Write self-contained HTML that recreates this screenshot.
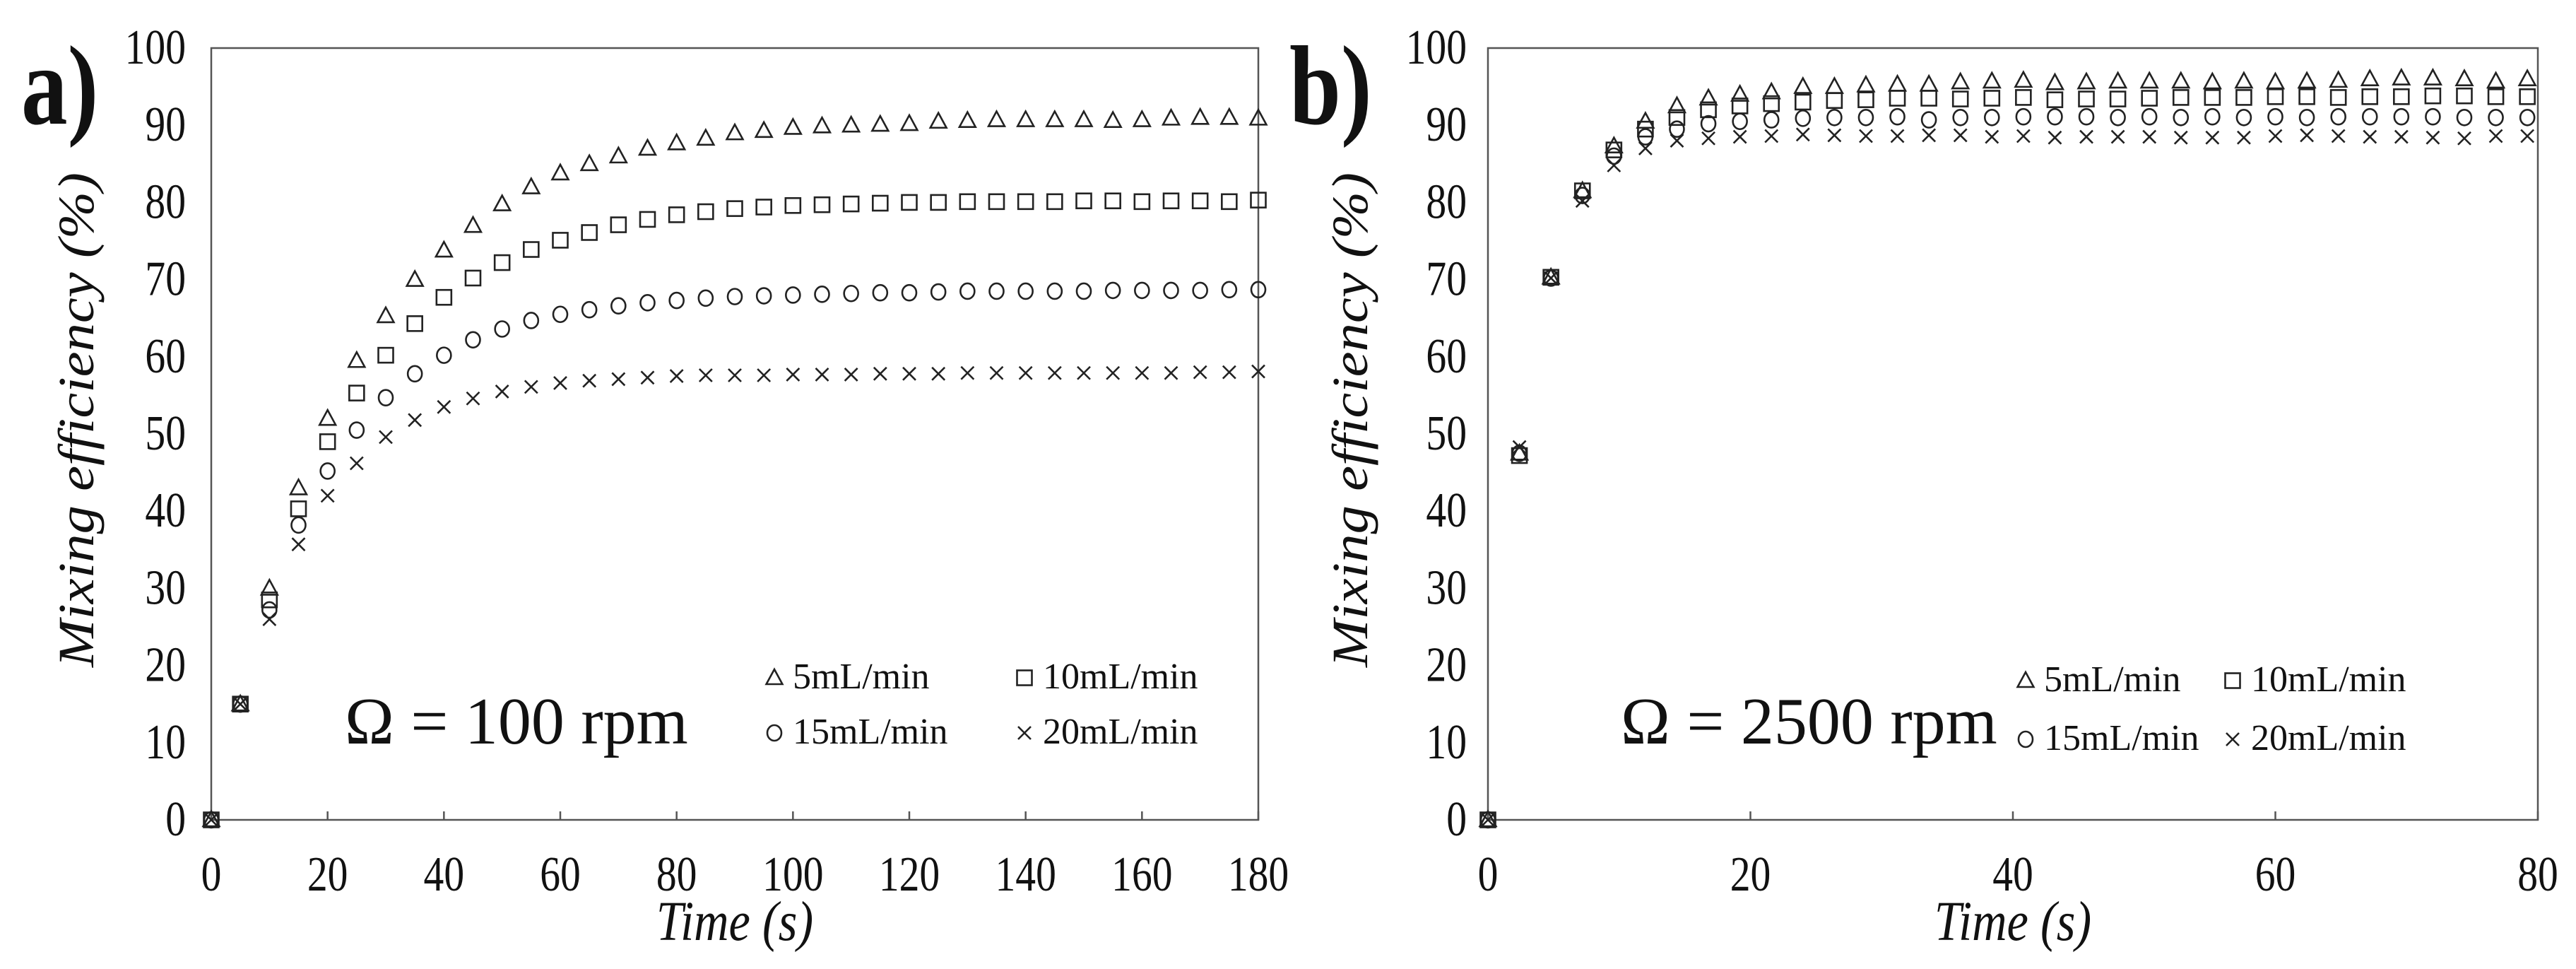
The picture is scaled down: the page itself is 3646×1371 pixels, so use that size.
<!DOCTYPE html>
<html><head><meta charset="utf-8">
<style>
html,body{margin:0;padding:0;background:#fff;}
svg{display:block;font-family:"Liberation Serif","Times New Roman",serif;}
</style></head>
<body>
<svg id="fig" width="3646" height="1371" viewBox="0 0 3646 1371" xmlns="http://www.w3.org/2000/svg" font-family="Liberation Serif, serif">
<rect width="3646" height="1371" fill="#fff"/>
</svg>
<script>
// ---- Panel a data ----
const timeA = [0,5,10,15,20,25,30,35,40,45,50,55,60,65,70,75,80,85,90,95,100,105,110,115,120,125,130,135,140,145,150,155,160,165,170,175,180];
const a5  = [0,15,30,43,52,59.5,65.3,70,73.8,77,79.8,82,83.8,85,86,87,87.7,88.3,89,89.3,89.7,89.9,90,90.1,90.2,90.5,90.6,90.7,90.7,90.7,90.7,90.6,90.7,90.9,91,91,90.9];
const a10 = [0,15,28.5,40.3,49,55.3,60.2,64.3,67.7,70.2,72.2,73.9,75.1,76.1,77.1,77.8,78.4,78.8,79.2,79.4,79.6,79.7,79.8,79.9,80,80,80.1,80.1,80.1,80.1,80.2,80.2,80.1,80.2,80.2,80.1,80.3];
const a15 = [0,15,27.2,38.2,45.2,50.5,54.7,57.8,60.2,62.2,63.6,64.7,65.5,66.1,66.6,67,67.3,67.6,67.8,67.9,68,68.1,68.2,68.3,68.3,68.4,68.5,68.5,68.5,68.5,68.5,68.6,68.6,68.6,68.6,68.7,68.7];
const a20 = [0,15,26,35.7,42,46.2,49.6,51.8,53.5,54.6,55.5,56.1,56.6,56.9,57.1,57.3,57.5,57.6,57.6,57.6,57.7,57.7,57.7,57.8,57.8,57.8,57.9,57.9,57.9,57.9,57.9,57.9,57.9,57.9,58,58,58.1];
const xTicksA = [0,20,40,60,80,100,120,140,160,180];
// ---- Panel b data ----
const timeB = [0,2.4,4.8,7.2,9.6,12,14.4,16.8,19.2,21.6,24,26.4,28.8,31.2,33.6,36,38.4,40.8,43.2,45.6,48,50.4,52.8,55.2,57.6,60,62.4,64.8,67.2,69.6,72,74.4,76.8,79.2];
const b5  = [0,47.5,70.3,81.5,87.3,90.5,92.5,93.5,94,94.3,95,95,95.2,95.3,95.3,95.6,95.7,95.8,95.5,95.6,95.7,95.7,95.7,95.6,95.7,95.6,95.7,95.8,96,96.1,96.1,96,95.7,96];
const b10 = [0,47.2,70.3,81.5,86.8,89.5,91,92,92.5,92.8,93,93.2,93.3,93.5,93.5,93.4,93.5,93.6,93.3,93.4,93.4,93.5,93.6,93.6,93.6,93.7,93.7,93.6,93.7,93.7,93.8,93.8,93.7,93.7];
const b15 = [0,47.5,70.2,80.9,86,88.5,89.5,90.2,90.5,90.7,90.9,91,91,91.1,90.7,91,91,91.1,91.1,91.1,91,91.1,91,91.1,91,91.1,91,91.1,91.1,91.1,91.1,91,91,91];
const b20 = [0,48.3,70.2,80.2,84.8,87,88,88.3,88.5,88.6,88.8,88.7,88.6,88.6,88.7,88.7,88.5,88.6,88.4,88.5,88.5,88.5,88.4,88.4,88.4,88.6,88.7,88.6,88.5,88.5,88.4,88.3,88.6,88.6];
const xTicksB = [0,20,40,60,80];
const yTicks = [0,10,20,30,40,50,60,70,80,90,100];
const legendLabels = ["5mL/min","10mL/min","15mL/min","20mL/min"];

const NS="http://www.w3.org/2000/svg";
const svg=document.getElementById('fig');
function mk(tag,attrs,parent,text){const e=document.createElementNS(NS,tag);for(const k in attrs)e.setAttribute(k,attrs[k]);if(text!==undefined)e.textContent=text;(parent||svg).appendChild(e);return e;}
const FF='"Liberation Serif", "Times New Roman", serif';

function marker(g,type,cx,cy){
  const st={fill:'none',stroke:'#222','stroke-width':2.6};
  let e;
  if(type==='tri'){const s=12;e=mk('polygon',Object.assign({points:`${cx},${cy-s} ${cx-s*0.95},${cy+s*0.75} ${cx+s*0.95},${cy+s*0.75}`},st),g);}
  else if(type==='sq'){const s=10.5;e=mk('rect',Object.assign({x:cx-s,y:cy-s,width:2*s,height:2*s},st),g);}
  else if(type==='circ'){e=mk('ellipse',Object.assign({cx:cx,cy:cy,rx:10,ry:11},st),g);}
  else {const s=9;e=mk('path',Object.assign({d:`M${cx-s},${cy-s}L${cx+s},${cy+s}M${cx-s},${cy+s}L${cx+s},${cy-s}`},st),g);}
  return e;
}

function panel(cfg){
  const g=mk('g',{'font-family':FF});
  
  
  const {L,R,T,B,xmax}=cfg;
  const xs=v=>L+(v/xmax)*(R-L);
  const ys=v=>B-(v/100)*(B-T);
  const frame=mk('rect',{x:L,y:T,width:R-L,height:B-T,fill:'none',stroke:'#555','stroke-width':2.5},g);
  
  
  yTicks.forEach(v=>{
    const t=mk('text',{x:0,y:0,'text-anchor':'end','font-size':64,fill:'#111',transform:`translate(${L-cfg.yoff},${ys(v)+22}) scale(0.9,1.1)`},g,String(v));
    
    
  });
  cfg.xticks.forEach(v=>{
    mk('line',{x1:xs(v),x2:xs(v),y1:B,y2:B-12,stroke:'#555','stroke-width':2.5},g);
    const t=mk('text',{x:0,y:0,'text-anchor':'middle','font-size':64,fill:'#111',transform:`translate(${xs(v)},${B+100}) scale(0.9,1.1)`},g,String(v));
    
    
  });
  const xt=mk('text',{x:0,y:0,'text-anchor':'middle','font-size':72,'font-style':'italic',fill:'#111',transform:`translate(${(L+R)/2},1330) scale(0.95,1.1)`},g,'Time (s)');
  
  
  const yt=mk('text',{x:0,y:0,'text-anchor':'middle','font-size':72,'font-style':'italic',fill:'#111',textLength:700,lengthAdjust:'spacingAndGlyphs',transform:`translate(${cfg.ytx},${(T+B)/2 - 20}) rotate(-90)`},g,'Mixing efficiency (%)');
  
  
  const pl=mk('text',{x:0,y:0,'font-size':160,'font-weight':'bold',fill:'#111',transform:`translate(${cfg.plx},175) scale(0.82,1)`},g,cfg.label);
  
  
  const om=mk('text',{x:cfg.omx,y:1052,'font-size':94,fill:'#111'},g,cfg.omega);
  
  
  const types=['tri','sq','circ','x'];
  cfg.series.forEach((ser,si)=>{
    const sg=mk('g',{},g);
    
    
    ser.forEach((v,i)=>{
      const m=marker(sg,types[si],xs(cfg.time[i]),ys(v));
      
      
    });
  });
  legendLabels.forEach((lab,i)=>{
    const col=i%2,row=Math.floor(i/2);
    const lx=cfg.legX[col],ly=cfg.legY[row];
    const lg=mk('g',{},g);
    
    
    const m=marker(lg,types[i],lx,ly-15);
    
    
    const t=mk('text',{x:lx+26,y:ly,'font-size':52,fill:'#111'},lg,lab);
    
    
  });
}

panel({name:'panel-a',L:299,R:1781,T:68,B:1160,xmax:180,xticks:xTicksA,time:timeA,series:[a5,a10,a15,a20],
  ytx:132,plx:30,label:'a)',omx:488,omega:'Ω = 100 rpm',legX:[1096,1450],legY:[974,1052],yoff:36});
panel({name:'panel-b',L:2106,R:3592,T:68,B:1160,xmax:80,xticks:xTicksB,time:timeB,series:[b5,b10,b15,b20],
  ytx:1935,plx:1825,label:'b)',omx:2294,omega:'Ω = 2500 rpm',legX:[2867,3160],legY:[978,1061],yoff:30});
</script>
</body></html>
